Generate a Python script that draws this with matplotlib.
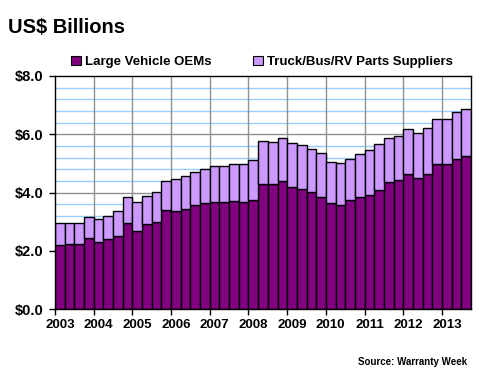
import matplotlib
matplotlib.use("Agg")
import matplotlib.pyplot as plt
import numpy as np
from matplotlib.patches import Rectangle

plt.rcParams['font.family'] = ['Liberation Sans', 'DejaVu Sans']

years = ['2003', '2004', '2005', '2006', '2007', '2008', '2009', '2010', '2011', '2012', '2013']
oem = [2.19, 2.22, 2.22, 2.44, 2.29, 2.40, 2.51, 2.95, 2.68, 2.92, 2.99, 3.40,
       3.35, 3.43, 3.56, 3.63, 3.66, 3.66, 3.71, 3.66, 3.74, 4.28, 4.28, 4.39,
       4.18, 4.11, 4.01, 3.84, 3.63, 3.56, 3.73, 3.83, 3.90, 4.09, 4.35, 4.42,
       4.62, 4.49, 4.62, 4.97, 4.97, 5.14, 5.24]
total = [2.94, 2.94, 2.94, 3.16, 3.09, 3.18, 3.36, 3.85, 3.66, 3.87, 4.02, 4.39,
         4.45, 4.57, 4.70, 4.80, 4.90, 4.90, 4.97, 4.97, 5.11, 5.76, 5.72, 5.86,
         5.69, 5.62, 5.48, 5.35, 5.05, 5.00, 5.14, 5.31, 5.45, 5.65, 5.86, 5.93,
         6.17, 6.03, 6.20, 6.53, 6.53, 6.75, 6.86]
suppliers = [t - o for t, o in zip(total, oem)]
series_names = ['Large Vehicle OEMs', 'Truck/Bus/RV Parts Suppliers']
colors = ['#800080', '#CC99FF']

n = len(oem)
x = np.arange(n)

fig = plt.figure(figsize=(4.8, 3.8), dpi=100)
ax = fig.add_axes([55/480, 1-309/380, 416/480, 233/380])

ax.bar(x, oem, width=1.0, color=colors[0], edgecolor='black', linewidth=1.0, zorder=3)
ax.bar(x, suppliers, bottom=oem, width=1.0, color=colors[1], edgecolor='black', linewidth=1.0, zorder=3)

ax.set_xlim(-0.5, n - 0.5)
ax.set_ylim(0, 8)

# grid lines
for v in np.arange(0.4, 8.0, 0.4):
    if abs(v / 2 - round(v / 2)) < 1e-6:
        ax.axhline(v, color='#909090', lw=1.0, zorder=1)
    else:
        ax.axhline(v, color='#99CCFF', lw=1.0, zorder=1)
for b in np.arange(3.5, n - 0.5, 4):
    ax.axvline(b, color='#909090', lw=1.0, zorder=1)

ax.set_yticks([0, 2, 4, 6, 8])
ax.set_yticklabels(['$%.1f' % v for v in [0, 2, 4, 6, 8]], fontsize=10.5, fontweight='bold')
ax.tick_params(axis='y', length=4, width=1, pad=4, direction='out')

ax.set_xticks(np.arange(0, n, 4))
ax.set_xticklabels(years, fontsize=9.5, fontweight='bold')
ax.set_xticks(np.arange(-0.5, n - 0.5, 4), minor=True)
ax.tick_params(axis='x', which='major', length=0, pad=7)
ax.tick_params(axis='x', which='minor', length=4, width=1, direction='out')

for s in ax.spines.values():
    s.set_color('black')
    s.set_linewidth(1.0)
    s.set_zorder(4)

fig.text(8/480, 1-33/380, 'US$ Billions', fontsize=14.5, fontweight='bold', ha='left', va='baseline')

# legend
handles = [Rectangle((0, 0), 1, 1, facecolor=c, edgecolor='black', lw=0.8) for c in colors]
fig.legend(handles, series_names, loc='center', bbox_to_anchor=(262/480, 1-62/380), ncol=2,
           frameon=False, prop={'size': 9.5, 'weight': 'bold'}, handlelength=0.75, handleheight=0.75,
           handletextpad=0.3, columnspacing=3.2)

fig.text(467/480, 1-365/380, 'Source: Warranty Week', fontsize=7, fontweight='bold', ha='right', va='baseline')

fig.savefig('out.png', dpi=100)
